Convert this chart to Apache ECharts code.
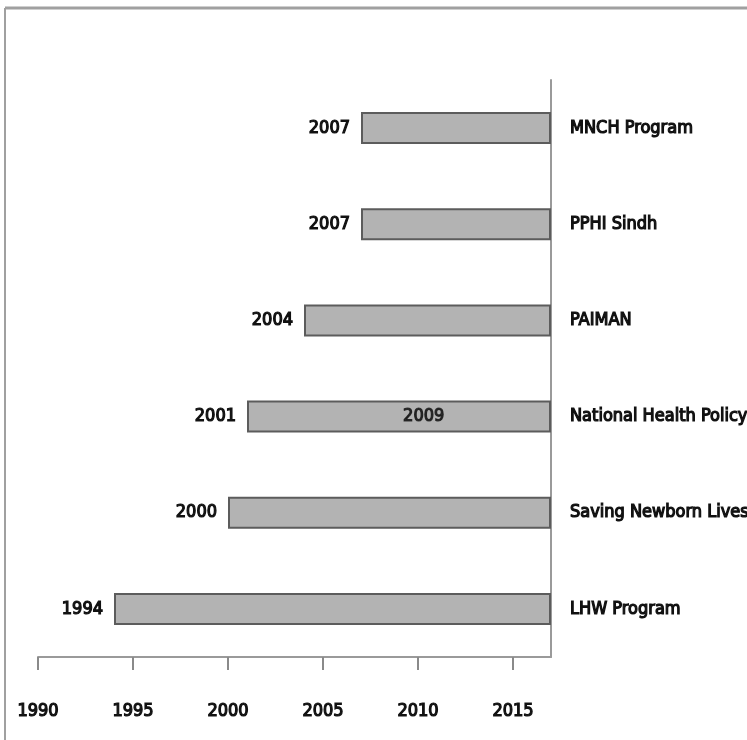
<!DOCTYPE html>
<html>
<head>
<meta charset="utf-8">
<script src="https://cdn.jsdelivr.net/npm/echarts@6/dist/echarts.min.js"></script>
<style>
  html, body { margin: 0; padding: 0; background: #fff; }
  #chart { width: 747px; height: 740px; }
</style>
</head>
<body>
<div id="chart"></div>
<script>
// programs, bottom to top
const programs = ['LHW Program', 'Saving Newborn Lives', 'National Health Policy', 'PAIMAN', 'PPHI Sindh', 'MNCH Program']
const startYears = [1994, 2000, 2001, 2004, 2007, 2007]
const endYear = 2017
const yearTicks = [1990, 1995, 2000, 2005, 2010, 2015]
// extra year written inside a bar
const noteProgram = 'National Health Policy'
const noteText = '2009'
const noteAt = 2010.3

// narrow, heavy-ish text like the original
const textStyle = {
  color: '#111',
  fontFamily: "'DejaVu Sans Condensed', 'Liberation Sans Narrow', sans-serif",
  fontWeight: 'normal',
  fontSize: 18,
  textBorderColor: '#111',
  textBorderWidth: 1.2
}

const chart = echarts.init(document.getElementById('chart'))

const option = {
  animation: false,
  grid: { left: 38, right: 196, top: 80, bottom: 83, outerBoundsMode: 'none', containLabel: false },
  xAxis: {
    type: 'value',
    min: 1990,
    max: endYear,
    interval: 5,
    splitLine: { show: false },
    axisLine: { show: true, lineStyle: { color: '#9a9a9a', width: 2 } },
    axisTick: { show: true, length: 13, customValues: yearTicks, lineStyle: { color: '#8a8a8a', width: 2 } },
    axisLabel: Object.assign({
      customValues: yearTicks,
      formatter: v => String(v),
      margin: 45
    }, textStyle)
  },
  yAxis: {
    type: 'category',
    data: programs,
    position: 'right',
    axisLine: { show: true, lineStyle: { color: '#9a9a9a', width: 2 } },
    axisTick: { show: false },
    axisLabel: Object.assign({ margin: 19, align: 'left' }, textStyle)
  },
  series: [
    {
      type: 'bar',
      stack: 'span',
      silent: true,
      itemStyle: { color: 'transparent' },
      data: startYears
    },
    {
      type: 'bar',
      stack: 'span',
      barWidth: 32,
      itemStyle: { color: '#b3b3b3', borderColor: '#5c5c5c', borderWidth: 2 },
      label: Object.assign({
        show: true,
        position: 'left',
        distance: 11,
        formatter: p => String(startYears[p.dataIndex])
      }, textStyle),
      data: startYears.map(s => endYear - s)
    },
    {
      type: 'scatter',
      symbolSize: 0,
      silent: true,
      label: Object.assign({
        show: true,
        position: 'inside',
        formatter: noteText
      }, textStyle),
      data: [[noteAt, noteProgram]]
    }
  ],
  graphic: [
    { type: 'line', shape: { x1: 5, y1: 8, x2: 747, y2: 8 }, style: { stroke: '#a0a0a0', lineWidth: 3 } },
    { type: 'line', shape: { x1: 5, y1: 8, x2: 5, y2: 740 }, style: { stroke: '#a0a0a0', lineWidth: 2 } }
  ]
}

chart.setOption(option)
</script>
</body>
</html>
